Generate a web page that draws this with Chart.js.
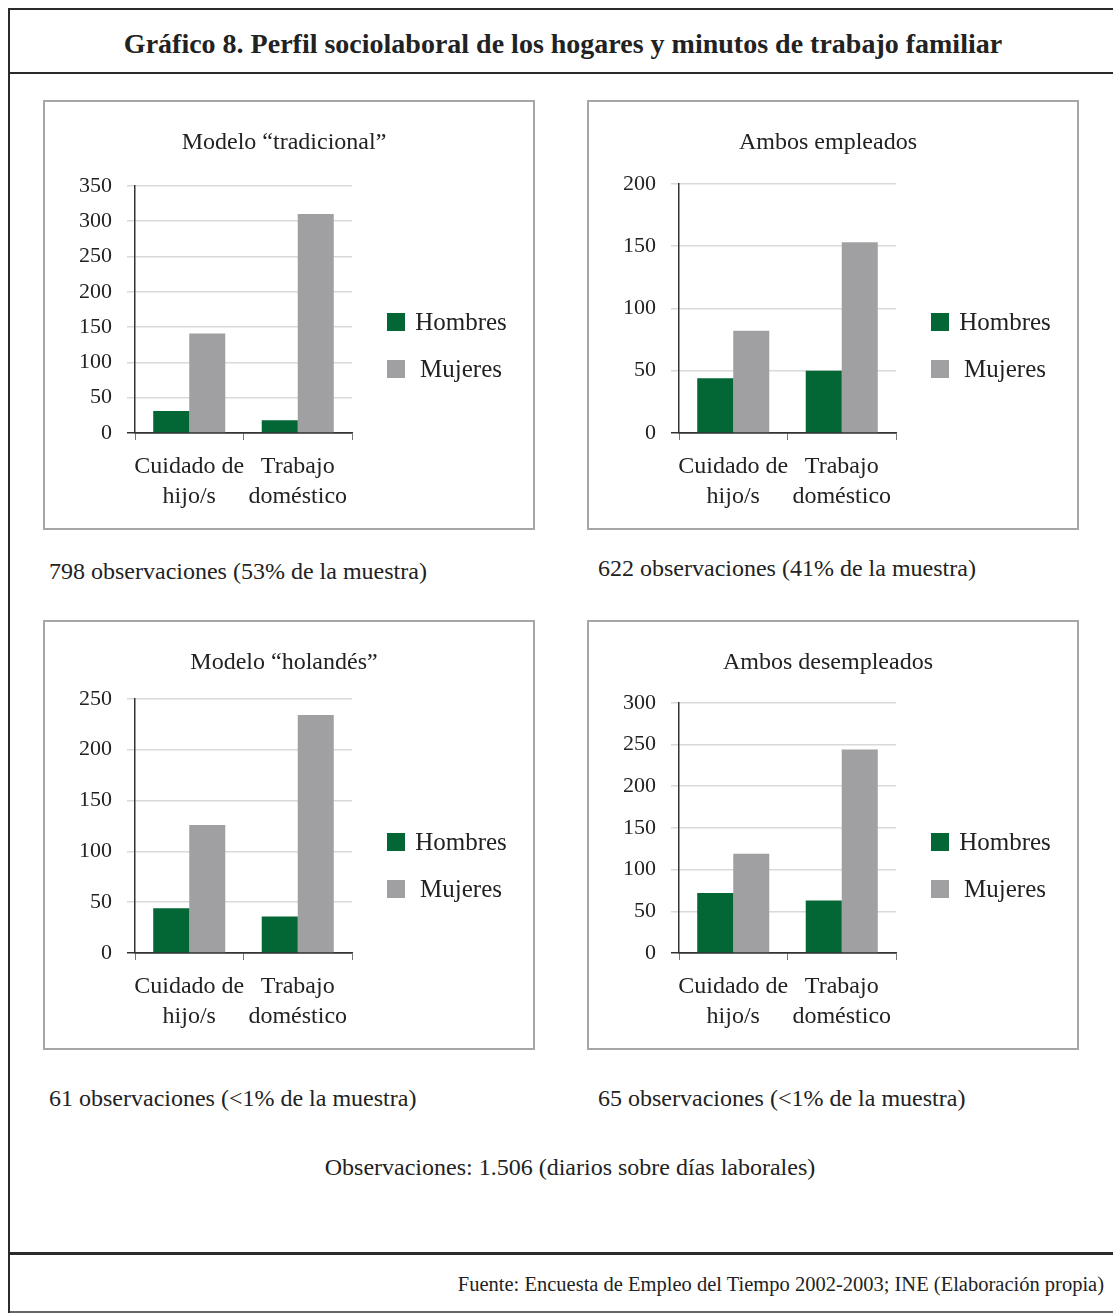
<!DOCTYPE html>
<html>
<head>
<meta charset="utf-8">
<script src="https://cdn.jsdelivr.net/npm/chart.js@4.4.1/dist/chart.umd.min.js"></script>
<style>
  body { margin: 0; background: #fff; width: 1113px; height: 1313px; position: relative; overflow: hidden;
         font-family: 'Liberation Serif', serif; color: #222; }
  .line { position: absolute; background: #2b2b2b; }
  .panel { position: absolute; width: 488px; height: 426px; border: 2px solid #a6a6a6; }
  .panel canvas { display: block; }
  .txt { position: absolute; white-space: nowrap; line-height: 28px; }
  #title { left: 8px; width: 1110px; top: 28px; text-align: center; font-weight: bold; font-size: 28px; line-height: 32px; }
</style>
</head>
<body>
<div class="line" style="left:8px;top:8px;width:1105px;height:2px"></div>
<div class="line" style="left:8px;top:72px;width:1105px;height:2px"></div>
<div class="line" style="left:8px;top:1252px;width:1105px;height:3px"></div>
<div class="line" style="left:8px;top:1311px;width:1105px;height:2px;background:#666"></div>
<div class="line" style="left:8px;top:8px;width:2px;height:1305px"></div>

<div id="title" class="txt">Gráfico 8. Perfil sociolaboral de los hogares y minutos de trabajo familiar</div>

<div class="panel" style="left:43px;top:100px"><canvas id="c1" width="488" height="426"></canvas></div>
<div class="panel" style="left:587px;top:100px"><canvas id="c2" width="488" height="426"></canvas></div>
<div class="panel" style="left:43px;top:620px"><canvas id="c3" width="488" height="426"></canvas></div>
<div class="panel" style="left:587px;top:620px"><canvas id="c4" width="488" height="426"></canvas></div>

<div class="txt" style="left:49px;top:557px;font-size:24px">798 observaciones (53% de la muestra)</div>
<div class="txt" style="left:598px;top:554px;font-size:24px">622 observaciones (41% de la muestra)</div>
<div class="txt" style="left:49px;top:1084px;font-size:24px">61 observaciones (&lt;1% de la muestra)</div>
<div class="txt" style="left:598px;top:1084px;font-size:24px">65 observaciones (&lt;1% de la muestra)</div>
<div class="txt" style="left:0;width:1140px;top:1153px;font-size:24px;text-align:center">Observaciones: 1.506 (diarios sobre días laborales)</div>
<div class="txt" style="right:9px;top:1271px;font-size:20.5px;line-height:26px">Fuente: Encuesta de Empleo del Tiempo 2002-2003; INE (Elaboración propia)</div>

<script>
// data (minutos)
const categories = [['Cuidado de', 'hijo/s'], ['Trabajo', 'doméstico']];
const seriesNames = ['Hombres', 'Mujeres'];
const panelTitles = ['Modelo “tradicional”', 'Ambos empleados', 'Modelo “holandés”', 'Ambos desempleados'];

const tradicionalHombres = [31, 18];
const tradicionalMujeres = [141, 310];
const empleadosHombres = [44, 50];
const empleadosMujeres = [82, 153];
const holandesHombres = [44, 36];
const holandesMujeres = [126, 234];
const desempleadosHombres = [72, 63];
const desempleadosMujeres = [119, 244];

const yMax = [350, 200, 250, 300];
const yStep = 50;

const GREEN = '#036635';
const GREY = '#a0a0a2';
const FONT = 'Liberation Serif';

// legend drawn by hand so the text sits centred like the original
const sideLegend = {
  id: 'sideLegend',
  afterDraw(chart) {
    const { ctx, chartArea } = chart;
    const x0 = chartArea.right + 35;
    ctx.save();
    chart.data.datasets.forEach((ds, i) => {
      const cy = chartArea.bottom - 111 + i * 47;
      ctx.fillStyle = ds.backgroundColor;
      ctx.fillRect(x0, cy - 9, 18, 18);
      ctx.fillStyle = '#222';
      ctx.font = '25px "' + FONT + '"';
      ctx.textAlign = 'center';
      ctx.textBaseline = 'middle';
      ctx.fillText(ds.label, x0 + 74, cy + 1);
    });
    ctx.restore();
  }
};

function makeChart(id, title, hombres, mujeres, max, titleGap) {
  const ctx = document.getElementById(id).getContext('2d');
  return new Chart(ctx, {
    type: 'bar',
    data: {
      labels: categories,
      datasets: [
        { label: seriesNames[0], data: hombres, backgroundColor: GREEN },
        { label: seriesNames[1], data: mujeres, backgroundColor: GREY }
      ]
    },
    options: {
      responsive: false,
      animation: false,
      layout: { padding: { left: 0, right: 10, top: 0, bottom: 0 } },
      datasets: { bar: { categoryPercentage: 0.664, barPercentage: 1 } },
      plugins: {
        legend: { display: false },
        tooltip: { enabled: false },
        title: {
          display: true, text: title, color: '#222',
          font: { family: FONT, size: 24, weight: 'normal', lineHeight: 1.2 },
          padding: { top: 26, bottom: titleGap }
        }
      },
      scales: {
        x: {
          grid: { display: true, drawOnChartArea: false, tickLength: 7, color: '#777', lineWidth: 1 },
          border: { display: true, color: '#333', width: 1.5 },
          ticks: {
            color: '#222', padding: 12, autoSkip: false, maxRotation: 0, minRotation: 0,
            font: { family: FONT, size: 24, lineHeight: 1.25 }
          },
          afterFit(s) { s.height = 95; }
        },
        y: {
          min: 0, max: max,
          grid: {
            tickLength: 8, lineWidth: 1.5,
            color: (c) => c.tick && c.tick.value === 0 ? '#333' : '#d9d9d9'
          },
          border: { display: true, color: '#333', width: 1.5 },
          ticks: { stepSize: yStep, color: '#222', padding: 15, font: { family: FONT, size: 22 } },
          afterFit(s) { s.width = 90; }
        },
        // empty right-hand axis only reserves room for the legend
        side: {
          position: 'right', display: true,
          grid: { display: false }, border: { display: false }, ticks: { display: false },
          afterFit(s) { s.width = 171; }
        }
      }
    },
    plugins: [sideLegend]
  });
}

makeChart('c1', panelTitles[0], tradicionalHombres, tradicionalMujeres, yMax[0], 29);
makeChart('c2', panelTitles[1], empleadosHombres, empleadosMujeres, yMax[1], 27);
makeChart('c3', panelTitles[2], holandesHombres, holandesMujeres, yMax[2], 22);
makeChart('c4', panelTitles[3], desempleadosHombres, desempleadosMujeres, yMax[3], 26);
</script>
</body>
</html>
